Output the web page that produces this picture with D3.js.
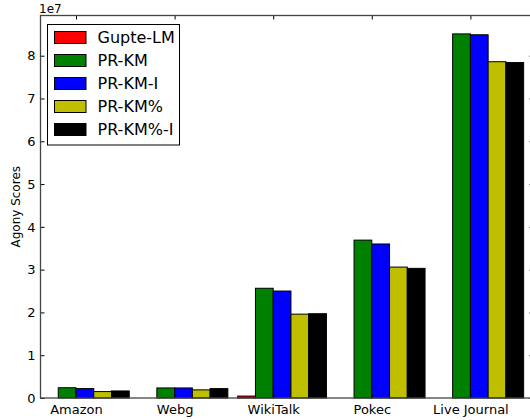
<!DOCTYPE html>
<html>
<head>
<meta charset="utf-8">
<script src="https://cdn.jsdelivr.net/npm/d3@7"></script>
<style>
  body { margin: 0; background: #fff; }
  text { font-family: "DejaVu Sans", sans-serif; fill: #000; }
</style>
</head>
<body>
<div id="chart"></div>
<script>
var width = 530,
    height = 420;

var categories = ["Amazon", "Webg", "WikiTalk", "Pokec", "Live Journal"];
var seriesNames = ["Gupte-LM", "PR-KM", "PR-KM-I", "PR-KM%", "PR-KM%-I"];
var seriesColors = ["#ff0000", "#008000", "#0000ff", "#bfbf00", "#000000"];

var gupteLM = [0, 0, 450000, 0, 0];
var prKM = [2400000, 2350000, 25650000, 36900000, 85100000];
var prKMI = [2200000, 2350000, 25000000, 36000000, 84900000];
var prKMPct = [1500000, 1900000, 19600000, 30600000, 78600000];
var prKMPctI = [1650000, 2200000, 19700000, 30300000, 78400000];

var yTicks = [0, 10000000, 20000000, 30000000, 40000000, 50000000, 60000000, 70000000, 80000000];

var allSeries = [gupteLM, prKM, prKMI, prKMPct, prKMPctI];
var barWidth = 0.18;

var x = d3.scaleLinear().domain([0, 5]).range([40.5, 533.5]);
var y = d3.scaleLinear().domain([0, 89400000]).range([398, 15.5]);

var svg = d3.select("#chart").append("svg")
    .attr("width", width)
    .attr("height", height);

// bars
allSeries.forEach(function(vals, k) {
  svg.append("g")
    .selectAll("rect")
    .data(vals)
    .enter().append("rect")
      .attr("x", function(d, i) { return x(i + k * barWidth); })
      .attr("width", function(d, i) { return x(i + (k + 1) * barWidth) - x(i + k * barWidth); })
      .attr("y", function(d) { return y(d); })
      .attr("height", function(d) { return y(0) - y(d); })
      .style("fill", seriesColors[k])
      .style("stroke", "#000")
      .style("stroke-width", 1);
});

// axes (ticks inside, matplotlib classic)
var xTickPos = categories.map(function(c, i) { return i + 2 * barWidth; });

var axBottom = svg.append("g")
    .attr("transform", "translate(0," + y(0) + ")")
    .call(d3.axisBottom(x).tickValues(xTickPos).tickSize(-4).tickPadding(7)
      .tickFormat(function(d, i) { return categories[i]; }));

var axTop = svg.append("g")
    .attr("transform", "translate(0," + y.range()[1] + ")")
    .call(d3.axisTop(x).tickValues(xTickPos).tickSize(-4).tickFormat(""));

var axLeft = svg.append("g")
    .attr("transform", "translate(" + x(0) + ",0)")
    .call(d3.axisLeft(y).tickValues(yTicks).tickSize(-4).tickPadding(5)
      .tickFormat(function(d) { return d / 10000000; }));

var axRight = svg.append("g")
    .attr("transform", "translate(" + x(5) + ",0)")
    .call(d3.axisRight(y).tickValues(yTicks).tickSize(-4).tickFormat(""));

[axBottom, axTop, axLeft, axRight].forEach(function(a) {
  a.select(".domain").remove();
  a.selectAll("line").style("stroke", "#000");
  a.selectAll("text").style("font-size", "13px").style("font-family", "DejaVu Sans");
});

// frame
svg.append("rect")
    .attr("x", x(0))
    .attr("y", y.range()[1])
    .attr("width", x(5) - x(0))
    .attr("height", y(0) - y.range()[1])
    .style("fill", "none")
    .style("stroke", "#444")
    .style("stroke-width", 1.3);

// offset text and y label
svg.append("text")
    .attr("x", 39)
    .attr("y", 13)
    .style("font-size", "12px")
    .text("1e7");

svg.append("text")
    .attr("transform", "translate(20," + ((y(0) + y.range()[1]) / 2) + ")rotate(-90)")
    .attr("text-anchor", "middle")
    .style("font-size", "12px")
    .text("Agony Scores");

// legend
var legend = svg.append("g");

legend.append("rect")
    .attr("x", 47.5)
    .attr("y", 24.5)
    .attr("width", 132)
    .attr("height", 120.5)
    .style("fill", "#fff")
    .style("stroke", "#000")
    .style("stroke-width", 1);

seriesNames.forEach(function(name, k) {
  var cy = 37.5 + k * 23;
  legend.append("rect")
      .attr("x", 54.5)
      .attr("y", cy - 6)
      .attr("width", 31.5)
      .attr("height", 12)
      .style("fill", seriesColors[k])
      .style("stroke", "#000")
      .style("stroke-width", 1);
  legend.append("text")
      .attr("x", 97.5)
      .attr("y", cy)
      .attr("dy", "0.36em")
      .style("font-size", "16px")
      .text(name);
});
</script>
</body>
</html>
